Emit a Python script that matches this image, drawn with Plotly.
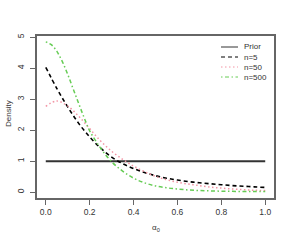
import plotly.graph_objects as go

x_grid = [0.0, 0.05, 0.1, 0.15, 0.2, 0.25, 0.3, 0.35, 0.4, 0.45, 0.5,
          0.55, 0.6, 0.65, 0.7, 0.75, 0.8, 0.85, 0.9, 0.95, 1.0]
prior_x = [0.0, 1.0]
prior_y = [1.0, 1.0]
dens_n5 = [4.03, 3.35, 2.75, 2.22, 1.78, 1.42, 1.13, 0.92, 0.76, 0.63, 0.53,
           0.45, 0.39, 0.34, 0.30, 0.27, 0.24, 0.21, 0.19, 0.17, 0.15]
dens_n50 = [2.77, 2.94, 2.78, 2.45, 2.05, 1.65, 1.32, 1.06, 0.84, 0.66, 0.51,
            0.40, 0.32, 0.26, 0.21, 0.16, 0.13, 0.10, 0.08, 0.06, 0.05]
x_n500 = [0.0, 0.025, 0.05, 0.075, 0.1, 0.125, 0.15, 0.175, 0.2, 0.25, 0.3, 0.35,
          0.4, 0.45, 0.5, 0.55, 0.6, 0.65, 0.7, 0.75, 0.8, 0.85, 0.9, 0.95, 1.0]
dens_n500 = [4.85, 4.76, 4.55, 4.22, 3.80, 3.33, 2.86, 2.40, 1.98, 1.42, 0.98, 0.68,
             0.45, 0.30, 0.20, 0.14, 0.10, 0.07, 0.05, 0.04, 0.03, 0.025, 0.02, 0.02, 0.02]
x_ticks = [0.0, 0.2, 0.4, 0.6, 0.8, 1.0]
y_ticks = [0, 1, 2, 3, 4, 5]
legend_labels = ["Prior", "n=5", "n=50", "n=500"]

styles = [
    dict(color="#333333", width=2, dash="solid"),
    dict(color="#000000", width=1.6, dash="4px,3px"),
    dict(color="#F294A4", width=1.5, dash="1.5px,2.5px"),
    dict(color="#66CC55", width=1.5, dash="1.5px,2.5px,4px,2.5px"),
]
series = [(prior_x, prior_y), (x_grid, dens_n5), (x_grid, dens_n50), (x_n500, dens_n500)]

fig = go.Figure()
for (xs, ys), name, st in zip(series, legend_labels, styles):
    fig.add_trace(go.Scatter(x=xs, y=ys, mode="lines", name=name,
                             line=dict(shape="spline", **st), showlegend=False))

axis_common = dict(showline=True, mirror=True, linecolor="#666666", linewidth=1.5,
                   ticks="outside", ticklen=5, tickcolor="#666666", tickwidth=1,
                   showgrid=False, zeroline=False, automargin=False,
                   tickfont=dict(size=8.5, color="#333333", family="Liberation Sans"))

W, H = 293, 244
L, R, T, B = 37, 19, 36, 46
pw, ph = W - L - R, H - T - B

fig.update_layout(
    width=W, height=H,
    margin=dict(l=L, r=R, t=T, b=B),
    paper_bgcolor="white", plot_bgcolor="white",
    font=dict(family="Liberation Sans", size=8, color="#333333"),
    xaxis=dict(range=[-0.04, 1.04], tickvals=x_ticks,
               ticktext=[f"{v:.1f}" for v in x_ticks], **axis_common),
    yaxis=dict(range=[-0.19, 5.04], tickvals=y_ticks, tickangle=-90,
               ticklabelstandoff=3, **axis_common),
    showlegend=False,
)

# axis titles
fig.add_annotation(text="α<sub>0</sub>", xref="paper", yref="paper",
                   x=(156 - L) / pw, y=(H - B - 228) / ph, showarrow=False,
                   xanchor="center", yanchor="middle",
                   font=dict(size=8, color="#333333"))
fig.add_annotation(text="Density", xref="paper", yref="paper",
                   x=(8 - L) / pw, y=(H - B - 114) / ph, showarrow=False,
                   xanchor="center", yanchor="middle",
                   textangle=-90, font=dict(size=8, color="#333333"))

# legend (drawn in pixel-derived paper coordinates)
row_px = [47, 57, 67, 77]
for name, st, py in zip(legend_labels, styles, row_px):
    yp = (H - B - py) / ph
    fig.add_shape(type="line", xref="paper", yref="paper",
                  x0=(221 - L) / pw, x1=(238 - L) / pw, y0=yp, y1=yp,
                  line=dict(color=st["color"], width=1, dash=st["dash"]))
    fig.add_annotation(text=name, xref="paper", yref="paper",
                       x=(242 - L) / pw, y=yp, xanchor="left", yanchor="middle",
                       showarrow=False, font=dict(size=8, color="#333333"))

fig.write_html("out.html", config={"displayModeBar": False},
               post_script="document.body.style.margin='0px';document.body.style.overflow='hidden';")
